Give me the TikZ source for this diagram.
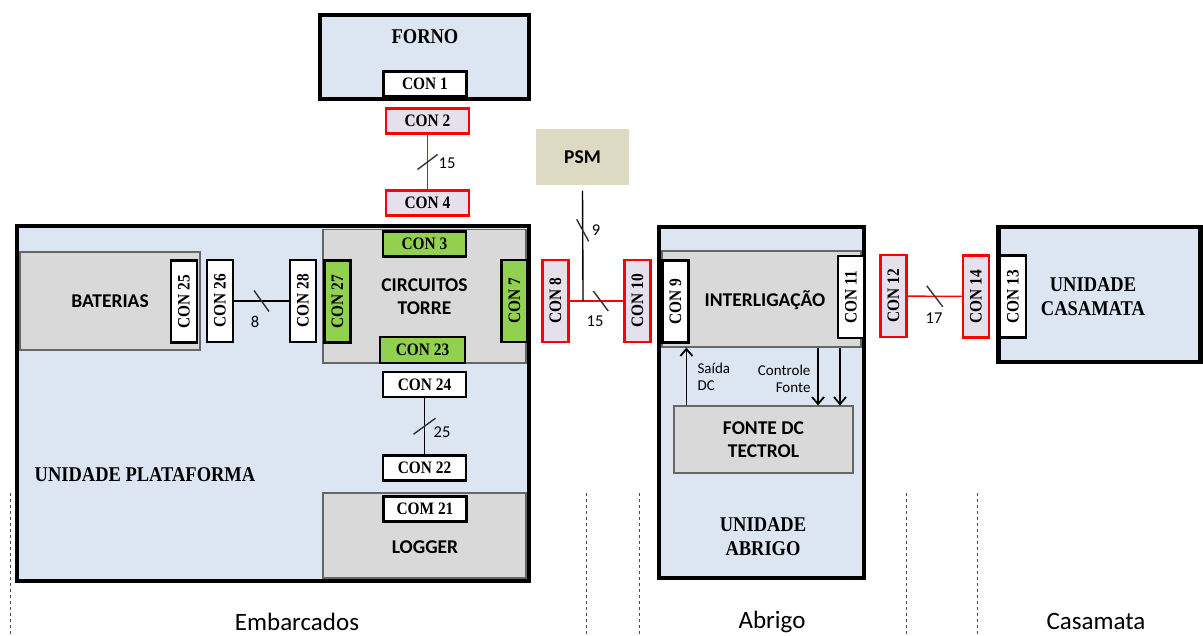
\documentclass[tikz,border=0pt]{standalone}
\usepackage{fontspec}
\usepackage{graphicx}
\usepackage{tikz}
\usetikzlibrary{arrows.meta}
\setmainfont{Carlito}
\newfontfamily\conserif[FakeStretch=0.88]{Liberation Serif}
\definecolor{azulclaro}{HTML}{DCE6F2}
\definecolor{cinza}{HTML}{D9D9D9}
\definecolor{verde}{HTML}{92D050}
\definecolor{lilas}{HTML}{E6E0EC}
\definecolor{bege}{HTML}{DDD9C3}
\newcommand{\girar}[1]{\rotatebox{90}{#1}}

\begin{document}
\begin{tikzpicture}[x=1pt, y=-1pt, >={Straight Barb[length=7pt,width=12pt]},
  unidade/.style={draw, line width=4.8pt, fill=azulclaro, inner sep=0pt},
  regiao/.style={draw=black!60, line width=1.2pt, fill=cinza, inner sep=0pt, align=center, font=\bfseries\fontsize{19.5}{23}\selectfont},
  con/.style={draw, line width=2.2pt, fill=white, minimum width=83pt, minimum height=25pt, inner sep=0pt, font=\conserif\bfseries\fontsize{17.5}{17.5}\selectfont},
  vcon/.style={con, minimum width=26pt, minimum height=82pt},
  conext/.style={draw=red, fill=lilas},
  conint/.style={fill=verde},
  titulo/.style={font=\conserif\bfseries\fontsize{21}{24}\selectfont, align=center},
  num/.style={font=\fontsize{16.5}{16.5}\selectfont},
  peq/.style={font=\fontsize{15}{17.5}\selectfont},
  zona/.style={font=\fontsize{25}{25}\selectfont},
  cabo/.style={line width=1.4pt},
  tick/.style={line width=1.4pt, black!80},
  seta/.style={line width=1.8pt}]
  \useasboundingbox (0,0) rectangle (1203,635);

  % unidades
  \node[unidade, minimum width=209pt, minimum height=84pt] (forno) at (424.5,57) {};
  \node[unidade, minimum width=512pt, minimum height=355pt] (plat) at (273,403.5) {};
  \node[unidade, minimum width=205pt, minimum height=351pt] (abrigo) at (761.5,402.5) {};
  \node[unidade, minimum width=202pt, minimum height=135pt] (casamata) at (1099.5,294.5) {};
  \node[titulo] (tforno) at (425,37) {FORNO};
  \node[titulo] (tplat) at (145,475) {UNIDADE PLATAFORMA};
  \node[titulo] (tabrigo) at (763,537) {UNIDADE\\ABRIGO};
  \node[titulo] (tcasamata) at (1093,297) {UNIDADE\\CASAMATA};

  % regioes internas
  \node[regiao, minimum width=180pt, minimum height=98pt] (bat) at (110,301) {BATERIAS};
  \node[regiao, minimum width=203pt, minimum height=133.5pt] (torre) at (424.5,296.25) {CIRCUITOS\\TORRE};
  \node[regiao, minimum width=203pt, minimum height=85pt] (logger) at (424.5,535.5) {};
  \node[regiao, draw=none, fill=none] (tlogger) at (425,547) {LOGGER};
  \node[regiao, minimum width=199pt, minimum height=96pt] (interlig) at (761.5,299) {};
  \node[regiao, draw=none, fill=none] (tinterlig) at (765,300) {INTERLIGAÇÃO};
  \node[regiao, minimum width=179pt, minimum height=67pt] (fonte) at (763.5,439.5) {FONTE DC\\TECTROL};
  \node[regiao, draw=none, fill=bege, minimum width=93pt, minimum height=56pt] (psm) at (582.5,157) {PSM};

  % conectores horizontais
  \node[con, minimum height=25pt] (con1) at (425,84) {CON 1};
  \node[con, conext] (con2) at (427.5,121) {CON 2};
  \node[con, conext] (con4) at (427.5,203) {CON 4};
  \node[con, conint] (con3) at (424.5,244) {CON 3};
  \node[con, conint, minimum width=85pt, minimum height=26pt] (con23) at (422.5,350) {CON 23};
  \node[con] (con24) at (424.5,384.5) {CON 24};
  \node[con] (con22) at (424.5,468) {CON 22};
  \node[con] (com21) at (425,509) {COM 21};

  % conectores verticais
  \foreach \n/\x/\y in {25/184/301.5, 26/220/301, 28/303/301, 9/675.5/301.5, 11/851/297, 13/1013/296.5}
    \node[vcon] (con\n) at (\x,\y) {\girar{CON \n}};
  \foreach \n/\x/\y in {27/337.5/301.5, 7/514.5/301}
    \node[vcon, conint] (con\n) at (\x,\y) {\girar{CON \n}};
  \foreach \n/\x/\y in {8/555.5/301, 10/637.5/301, 12/893.5/296, 14/976/296.5}
    \node[vcon, conext] (con\n) at (\x,\y) {\girar{CON \n}};

  % cabos
  \draw[cabo, red] (con2) -- coordinate[pos=.5] (m15a) (con4);
  \draw[tick] ([shift={(-10,7.5)}]m15a) -- ([shift={(10,-7.5)}]m15a);
  \node[num] (n15a) at (447,163) {15};

  \draw[cabo] (con26) -- coordinate[pos=.5] (m8) (con28);
  \draw[tick] ([shift={(-7.5,-10.5)}]m8) -- ([shift={(7.5,10.5)}]m8);
  \node[num] (n8) at (255,322) {8};

  \draw[cabo] (con24) -- coordinate[pos=.5] (m25) (con22);
  \draw[tick] ([shift={(-11,8)}]m25) -- ([shift={(11,-8)}]m25);
  \node[num] (n25) at (442,432) {25};

  \draw[cabo, red] (con8) -- coordinate[pos=.25] (j8) coordinate[pos=.58] (m15b) (con10);
  \draw[tick] ([shift={(-7.5,-10)}]m15b) -- ([shift={(7.5,10)}]m15b);
  \node[num] (n15b) at (595,321) {15};

  \draw[cabo] ([yshift=-5pt]psm.south) -- coordinate[pos=.36] (m9) (j8);
  \draw[tick] ([shift={(-6,-11)}]m9) -- ([shift={(6,11)}]m9);
  \node[num] (n9) at (596,230) {9};

  \draw[cabo, red] (con12) -- coordinate[pos=.5] (m17) (con14);
  \draw[tick] ([shift={(-8,-10.5)}]m17) -- ([shift={(8,10.5)}]m17);
  \node[num] (n17) at (934,318) {17};

  % sinais da fonte
  \draw[seta, ->] ([xshift=13pt]fonte.north west) -- ([xshift=13pt]fonte.north west |- interlig.south);
  \draw[seta, ->] ([xshift=56.5pt]interlig.south) -- ([xshift=56.5pt]interlig.south |- fonte.north);
  \draw[seta, ->] ([xshift=78.5pt]interlig.south) -- ([xshift=78.5pt]interlig.south |- fonte.north);
  \node[peq, anchor=west, align=left] (tsaida) at (694,377) {Saída\\DC};
  \node[peq, anchor=east, align=right] (tcontrole) at (814,379) {Controle\\Fonte};

  % divisoes
  \foreach \xd in {10,586,639,906,977}
    \draw[dashed, black!70] (\xd,493) -- (\xd,635);
  \node[zona] (zemb) at (297,622) {Embarcados};
  \node[zona] (zabr) at (772,622) {Abrigo};
  \node[zona] (zcas) at (1096,621) {Casamata};
\end{tikzpicture}
\end{document}
